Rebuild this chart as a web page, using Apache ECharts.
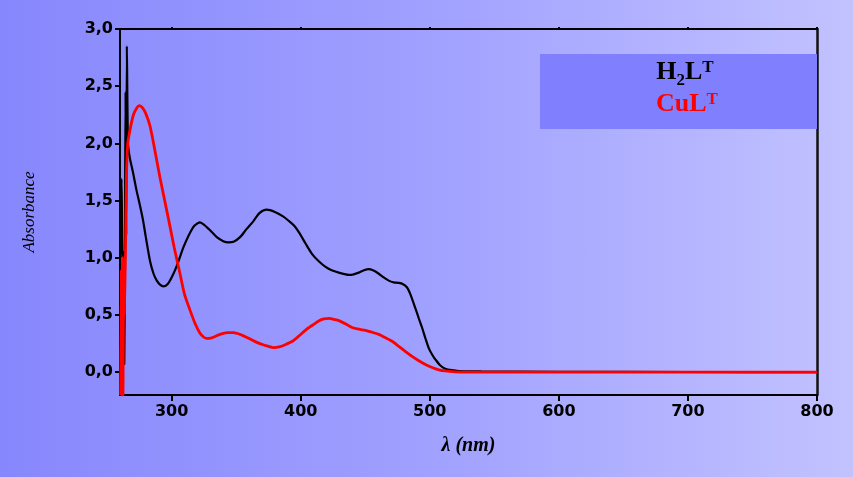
<!DOCTYPE html>
<html>
<head>
<meta charset="utf-8">
<script src="https://cdn.jsdelivr.net/npm/echarts@6/dist/echarts.min.js"></script>
<style>
html,body{margin:0;padding:0;}
#chart{width:853px;height:477px;background:linear-gradient(to right,#8787fd 0%,#a0a0ff 50%,#c2c2ff 100%);}
</style>
</head>
<body>
<div id="chart"></div>
<script>
// λ (nm) / absorbance pairs
const h2lWavelength = [260.5,261.2,262.0,262.8,263.3,263.8,264.3,264.8,265.3,266.2,267.5,270,272.6,275,277.8,280,283.3,286,288.5,291,293.6,297,301.4,305,309.1,313,316.9,320,322,325,329.8,335,340,344,348,353,358,363.4,368,373.7,380,386.6,391,395,398.8,404,409,414,419.3,424,429.5,437.2,441,445,449,452.7,456,460.5,464,468.2,472,476,479,482.4,485,488.8,491.5,494,496.5,499.2,502,504.4,508,512,517,522.5,540,600,700,800];
const h2lAbsorbance = [1.0,1.69,1.0,1.05,0.07,1.0,2.45,1.2,2.85,2.0,1.88,1.75,1.6,1.48,1.33,1.18,0.97,0.86,0.80,0.765,0.75,0.77,0.86,0.96,1.09,1.19,1.27,1.30,1.31,1.29,1.24,1.18,1.145,1.135,1.14,1.18,1.25,1.32,1.39,1.42,1.40,1.36,1.32,1.28,1.22,1.12,1.03,0.97,0.92,0.89,0.87,0.85,0.855,0.87,0.89,0.90,0.89,0.86,0.83,0.80,0.785,0.78,0.77,0.74,0.68,0.56,0.47,0.39,0.30,0.21,0.15,0.11,0.06,0.03,0.017,0.01,0.006,0.003,0.001,0.0];
const culWavelength = [260.5,261.0,261.4,261.9,262.3,262.8,263.3,263.8,264.2,265,266,267.8,270.4,273,275,277.5,280,283.3,287,291,295,298.8,302,306.5,310,314.3,318,322,325,327.2,331,337.5,343,347.9,353,357,360.8,366,372,378.8,383.3,388,393.6,399,404,409,414.3,418,422,426,429.5,435,439.8,445,450.2,455,460.5,465,470.8,476,481.2,486,491.5,497,501.8,507,512,520,527,800];
const culAbsorbance = [-0.2,0.9,-0.2,1.0,-0.2,0.55,0.5,0.5,1.0,1.7,2.0,2.12,2.25,2.31,2.33,2.31,2.26,2.15,1.94,1.70,1.48,1.27,1.09,0.86,0.68,0.54,0.43,0.34,0.305,0.295,0.30,0.33,0.345,0.345,0.33,0.31,0.29,0.26,0.235,0.215,0.22,0.24,0.27,0.32,0.37,0.41,0.45,0.465,0.47,0.46,0.45,0.42,0.39,0.375,0.365,0.35,0.33,0.305,0.27,0.225,0.18,0.14,0.10,0.065,0.04,0.02,0.01,0.003,0.0,0.0];
const xTicks = [300,400,500,600,700,800];
const yTicks = [0,0.5,1.0,1.5,2.0,2.5,3.0];
const seriesNames = ['H2LT','CuLT'];

const zip = (a,b) => a.map((v,i)=>[v,b[i]]);
const chart = echarts.init(document.getElementById('chart'), null, {renderer:'canvas'});
const tickFont = {fontFamily:'DejaVu Sans', fontWeight:'bold', fontSize:16, color:'#000'};
chart.setOption({
  backgroundColor:'transparent',
  animation:false,
  grid:{left:120,right:36,top:29,bottom:82},
  xAxis:[{
    type:'value', min:260, max:800, position:'bottom',
    name:'λ (nm)', nameLocation:'middle', nameGap:41,
    nameTextStyle:{fontFamily:'Liberation Serif', fontStyle:'italic', fontWeight:'bold', fontSize:20, color:'#000'},
    axisLine:{show:true, onZero:false, lineStyle:{color:'#000', width:2}},
    axisTick:{show:true, length:6, customValues:xTicks, lineStyle:{color:'#000', width:2}},
    axisLabel:{customValues:xTicks, margin:9, ...tickFont},
    splitLine:{show:false}
  },{
    type:'value', min:260, max:800, position:'top',
    axisLine:{show:true, onZero:false, lineStyle:{color:'#000', width:2}},
    axisTick:{show:true, length:2, customValues:xTicks, lineStyle:{color:'#000', width:2}},
    axisLabel:{show:false}, splitLine:{show:false}
  }],
  yAxis:[{
    type:'value', min:-0.2, max:3.0, position:'left',
    name:'Absorbance', nameLocation:'middle', nameGap:82, nameRotate:90,
    nameTextStyle:{fontFamily:'Liberation Serif', fontStyle:'italic', fontSize:17, color:'#000'},
    axisLine:{show:true, onZero:false, lineStyle:{color:'#000', width:2}},
    axisTick:{show:true, length:5, customValues:yTicks, lineStyle:{color:'#000', width:2}},
    axisLabel:{customValues:yTicks, margin:7, ...tickFont,
      formatter:v=>v.toFixed(1).replace('.',',')},
    splitLine:{show:false}
  },{
    type:'value', min:-0.2, max:3.0, position:'right',
    axisLine:{show:true, onZero:false, lineStyle:{color:'#111', width:2.5}},
    axisTick:{show:false}, axisLabel:{show:false}, splitLine:{show:false}
  }],
  series:[{
    name:seriesNames[0], type:'line', data:zip(h2lWavelength,h2lAbsorbance),
    showSymbol:false, smooth:0.25, z:2,
    lineStyle:{color:'#000', width:2.2}
  },{
    name:seriesNames[1], type:'line', data:zip(culWavelength,culAbsorbance),
    showSymbol:false, smooth:0.25, z:3,
    lineStyle:{color:'#ff0000', width:2.8}
  }],
  graphic:[{
    type:'rect', x:540, y:54, shape:{width:277, height:75},
    style:{fill:'#8080ff'}, z:1
  },{
    type:'text', x:685, y:59, z:5,
    style:{
      text:'{m|H}{sub|2}{m|L}{sup|T}', align:'center', verticalAlign:'top',
      rich:{
        m:{fontFamily:'Liberation Serif', fontWeight:'bold', fontSize:26, lineHeight:26, verticalAlign:'top', fill:'#000'},
        sub:{fontFamily:'Liberation Serif', fontWeight:'bold', fontSize:17, lineHeight:17, verticalAlign:'top', padding:[13,0,0,0], fill:'#000'},
        sup:{fontFamily:'Liberation Serif', fontWeight:'bold', fontSize:17, lineHeight:17, verticalAlign:'top', fill:'#000'}
      }
    }
  },{
    type:'text', x:687, y:91, z:5,
    style:{
      text:'{m|CuL}{sup|T}', align:'center', verticalAlign:'top',
      rich:{
        m:{fontFamily:'Liberation Serif', fontWeight:'bold', fontSize:26, lineHeight:26, verticalAlign:'top', fill:'#ff0000'},
        sup:{fontFamily:'Liberation Serif', fontWeight:'bold', fontSize:17, lineHeight:17, verticalAlign:'top', fill:'#ff0000'}
      }
    }
  }]
});
</script>
</body>
</html>
